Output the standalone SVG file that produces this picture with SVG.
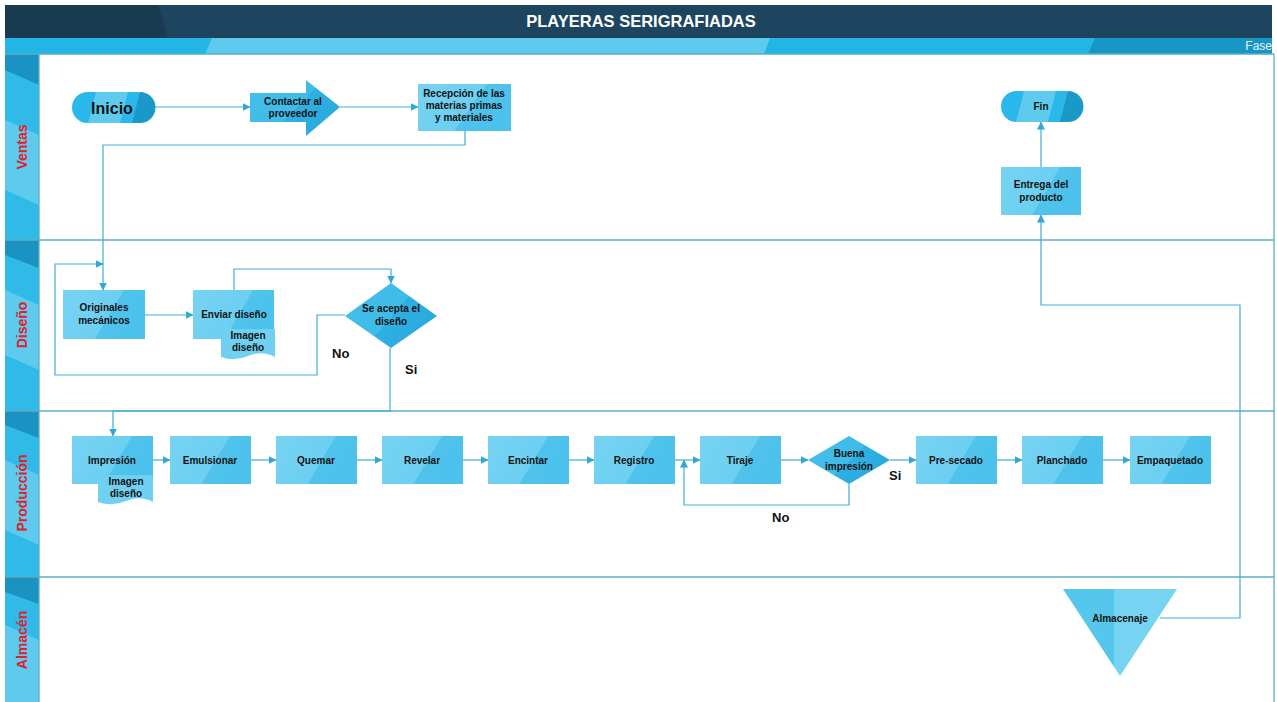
<svg xmlns="http://www.w3.org/2000/svg" width="1277" height="702" viewBox="0 0 1277 702">
<defs>
<linearGradient id="gBox" x1="0" y1="0" x2="1" y2="0.35">
<stop offset="0" stop-color="#77d3f2"/><stop offset="0.66" stop-color="#6ccff1"/><stop offset="0.66" stop-color="#4fc3ec"/><stop offset="1" stop-color="#4cc1eb"/>
</linearGradient>
<linearGradient id="gDia" x1="0" y1="0" x2="1" y2="0.6">
<stop offset="0" stop-color="#45bfea"/><stop offset="0.6" stop-color="#3fbbe8"/><stop offset="0.6" stop-color="#2fb0e2"/><stop offset="1" stop-color="#2aa9dc"/>
</linearGradient>
<linearGradient id="gTri" x1="0" y1="0" x2="1" y2="0">
<stop offset="0" stop-color="#55c6ec"/><stop offset="0.45" stop-color="#55c6ec"/><stop offset="0.45" stop-color="#77d3f2"/><stop offset="1" stop-color="#77d3f2"/>
</linearGradient>
<marker id="ah" viewBox="0 0 8 8" refX="7.5" refY="4" markerWidth="8" markerHeight="8" markerUnits="userSpaceOnUse" orient="auto">
<path d="M0,0 L8,4 L0,8 z" fill="#2fa8d6"/>
</marker>
<style>
.lbl{font-family:"Liberation Sans",Arial,sans-serif;font-weight:bold;font-size:10px;fill:#111;text-anchor:middle}
.lane{font-family:"Liberation Sans",Arial,sans-serif;font-weight:bold;font-size:14px;fill:#e0202a;text-anchor:middle}
.yn{font-family:"Liberation Sans",Arial,sans-serif;font-weight:bold;font-size:13px;fill:#111}
.box{fill:url(#gBox)}
.dia{fill:url(#gDia)}
.con{fill:none;stroke:#3fb0d8;stroke-width:1.2}
.sep{stroke:#5aaec0;stroke-width:1.3;fill:none}
</style>
</defs>
<rect width="1277" height="702" fill="#ffffff"/>
<g id="header">
<rect x="5" y="5" width="1267" height="33" fill="#1e4560"/>
<polygon points="5,5 158,5 168,38 5,38" fill="#1a3a52"/>
<text x="641" y="27" font-family="'Liberation Sans',Arial,sans-serif" font-weight="bold" font-size="16.5" fill="#ffffff" text-anchor="middle">PLAYERAS SERIGRAFIADAS</text>
<rect x="5" y="38" width="1267" height="16" fill="#22b6e6"/>
<polygon points="212,38 770,38 764,54 205,54" fill="#5ecbee"/>
<polygon points="1095,38 1272,38 1272,54 1088,54" fill="#1796c6"/>
<text x="1272" y="50" font-family="'Liberation Sans',Arial,sans-serif" font-size="12" fill="#e8f4f8" text-anchor="end">Fase</text>
</g>
<g id="lanes">
<rect x="5" y="54" width="34" height="648" fill="#2fbae8"/>
<polygon points="5,54 39,54 39,85 5,70" fill="#1a92c2"/>
<polygon points="5,120 39,135 39,205 5,190" fill="#5ecbee"/>
<polygon points="5,240 39,240 39,268 5,255" fill="#1a92c2"/>
<polygon points="5,290 39,305 39,370 5,355" fill="#5ecbee"/>
<polygon points="5,411 39,411 39,438 5,425" fill="#1a92c2"/>
<polygon points="5,460 39,475 39,545 5,530" fill="#5ecbee"/>
<polygon points="5,577 39,577 39,604 5,592" fill="#1a92c2"/>
<polygon points="5,625 39,640 39,702 5,702" fill="#5ecbee"/>
<line class="sep" x1="5" y1="54" x2="1274" y2="54"/>
<line class="sep" x1="5" y1="240" x2="1274" y2="240"/>
<line class="sep" x1="5" y1="411" x2="1274" y2="411"/>
<line class="sep" x1="5" y1="577" x2="1274" y2="577"/>
<line class="sep" x1="1274" y1="54" x2="1274" y2="702"/>
<line class="sep" x1="39" y1="54" x2="39" y2="702"/>
<text class="lane" transform="translate(27,147) rotate(-90)">Ventas</text>
<text class="lane" transform="translate(27,325) rotate(-90)">Diseño</text>
<text class="lane" transform="translate(27,493) rotate(-90)">Producción</text>
<text class="lane" transform="translate(27,640) rotate(-90)">Almacén</text>
</g>
<g id="connectors">
<path class="con" d="M153,107 H250" marker-end="url(#ah)"/>
<path class="con" d="M340,107 H418" marker-end="url(#ah)"/>
<path class="con" d="M465,131 V145 H103 V290" marker-end="url(#ah)"/>
<path class="con" d="M145,315 H193" marker-end="url(#ah)"/>
<path class="con" d="M234,290 V269 H391 V283" marker-end="url(#ah)"/>
<path class="con" d="M345,315 H317 V375 H55 V264 H103" marker-end="url(#ah)"/>
<path class="con" d="M390,348 V411 H113 V436" marker-end="url(#ah)"/>
<path class="con" d="M153,460 H170" marker-end="url(#ah)"/>
<path class="con" d="M251,460 H276" marker-end="url(#ah)"/>
<path class="con" d="M357,460 H382" marker-end="url(#ah)"/>
<path class="con" d="M463,460 H488" marker-end="url(#ah)"/>
<path class="con" d="M569,460 H594" marker-end="url(#ah)"/>
<path class="con" d="M675,460 H700" marker-end="url(#ah)"/>
<path class="con" d="M781,460 H808" marker-end="url(#ah)"/>
<path class="con" d="M890,460 H916" marker-end="url(#ah)"/>
<path class="con" d="M997,460 H1022" marker-end="url(#ah)"/>
<path class="con" d="M1103,460 H1130" marker-end="url(#ah)"/>
<path class="con" d="M849,484 V505 H684 V460" marker-end="url(#ah)"/>
<path class="con" d="M1160,618 H1240 V305 H1041 V215" marker-end="url(#ah)"/>
<path class="con" d="M1041,167 V122" marker-end="url(#ah)"/>
</g>
<g id="inicio">
<rect x="72" y="92" width="81" height="31" rx="15.5" fill="#2ab8ea"/>
<polygon points="96,92 128,92 120,123 88,123" fill="#5ecbee"/>
<path d="M140,92 A15.5,15.5 0 0 1 140,123 L132,123 Z" fill="#1a98c8"/>
<text x="112" y="114" text-anchor="middle" font-family="'Liberation Sans',Arial,sans-serif" font-weight="bold" font-size="16" fill="#111">Inicio</text>
</g>
<g id="contactar">
<polygon points="250,93 306,93 306,80 340,107 306,136 306,122 250,122" fill="url(#gDia)"/>
<text class="lbl" x="293" y="105" font-size="9.5">Contactar al</text>
<text class="lbl" x="293" y="117" font-size="9.5">proveedor</text>
</g>
<g id="recepcion">
<rect class="box" x="418" y="84" width="93" height="47"/>
<text class="lbl" x="464" y="97" font-size="9.5">Recepción de las</text>
<text class="lbl" x="464" y="109" font-size="9.5">materias primas</text>
<text class="lbl" x="464" y="121" font-size="9.5">y materiales</text>
</g>
<g id="fin">
<rect x="1001" y="91" width="80" height="31" rx="15.5" fill="#2ab8ea"/>
<polygon points="1024,91 1056,91 1048,122 1016,122" fill="#5ecbee"/>
<path d="M1068,91 A15.5,15.5 0 0 1 1068,122 L1060,122 Z" fill="#1a98c8"/>
<text class="lbl" x="1041" y="110">Fin</text>
</g>
<g id="entrega">
<rect class="box" x="1001" y="167" width="80" height="48"/>
<text class="lbl" x="1041" y="188">Entrega del</text>
<text class="lbl" x="1041" y="201">producto</text>
</g>
<g id="originales">
<rect class="box" x="63" y="290" width="82" height="49"/>
<text class="lbl" x="104" y="311">Originales</text>
<text class="lbl" x="104" y="324">mecánicos</text>
</g>
<g id="enviar">
<rect class="box" x="193" y="290" width="81" height="49"/>
<text class="lbl" x="234" y="318">Enviar diseño</text>
<path d="M221,329 H275 V357 Q262,350 248,356 Q234,362 221,357 Z" fill="#6fd0f1"/>
<text class="lbl" x="248" y="339">Imagen</text>
<text class="lbl" x="248" y="351">diseño</text>
</g>
<g id="acepta">
<polygon class="dia" points="391,283 437,316 391,348 345,316"/>
<text class="lbl" x="391" y="312" font-size="9.5">Se acepta el</text>
<text class="lbl" x="391" y="325" font-size="9.5">diseño</text>
<text class="yn" x="332" y="358">No</text>
<text class="yn" x="405" y="374" font-size="12">Si</text>
</g>
<g id="impresion">
<rect class="box" x="72" y="436" width="81" height="48"/>
<text class="lbl" x="112" y="464">Impresión</text>
<path d="M98,475 H153 V502 Q140,495 126,501 Q112,507 98,502 Z" fill="#6fd0f1"/>
<text class="lbl" x="126" y="485">Imagen</text>
<text class="lbl" x="126" y="497">diseño</text>
</g>
<g id="emulsionar"><rect class="box" x="170" y="436" width="81" height="48"/><text class="lbl" x="210" y="464">Emulsionar</text></g>
<g id="quemar"><rect class="box" x="276" y="436" width="81" height="48"/><text class="lbl" x="316" y="464">Quemar</text></g>
<g id="revelar"><rect class="box" x="382" y="436" width="81" height="48"/><text class="lbl" x="422" y="464">Revelar</text></g>
<g id="encintar"><rect class="box" x="488" y="436" width="81" height="48"/><text class="lbl" x="528" y="464">Encintar</text></g>
<g id="registro"><rect class="box" x="594" y="436" width="81" height="48"/><text class="lbl" x="634" y="464">Registro</text></g>
<g id="tiraje"><rect class="box" x="700" y="436" width="81" height="48"/><text class="lbl" x="740" y="464">Tiraje</text></g>
<g id="buena">
<polygon class="dia" points="849,436 890,460 849,484 808,460"/>
<text class="lbl" x="849" y="457" font-size="9.5">Buena</text>
<text class="lbl" x="849" y="470" font-size="9.5">impresión</text>
<text class="yn" x="889" y="480" font-size="12">Si</text>
<text class="yn" x="772" y="522">No</text>
</g>
<g id="presecado"><rect class="box" x="916" y="436" width="81" height="48"/><text class="lbl" x="956" y="464">Pre-secado</text></g>
<g id="planchado"><rect class="box" x="1022" y="436" width="81" height="48"/><text class="lbl" x="1062" y="464">Planchado</text></g>
<g id="empaquetado"><rect class="box" x="1130" y="436" width="81" height="48"/><text class="lbl" x="1170" y="464">Empaquetado</text></g>
<g id="almacenaje">
<polygon points="1063,589 1177,589 1120,676" fill="url(#gTri)"/>
<text class="lbl" x="1120" y="622">Almacenaje</text>
</g>
</svg>
